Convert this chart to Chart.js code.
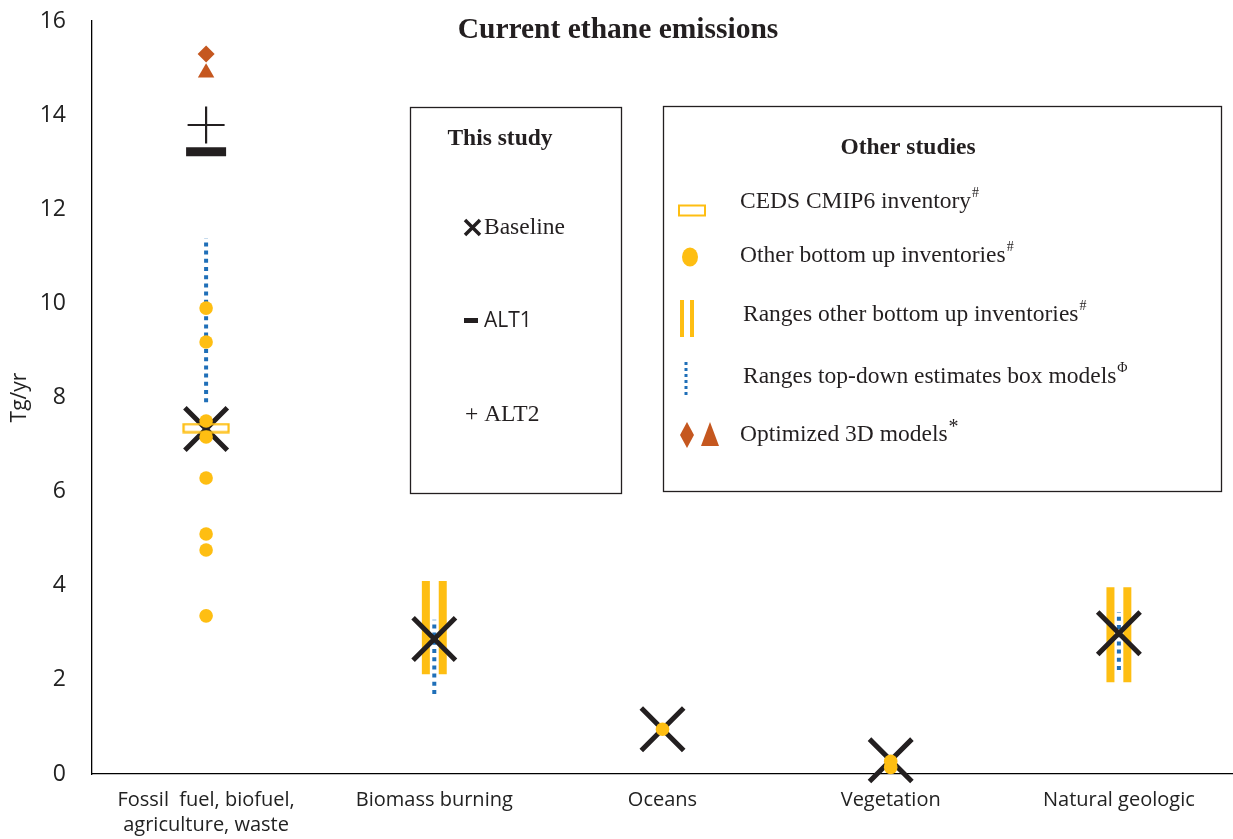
<!DOCTYPE html>
<html>
<head>
<meta charset="utf-8">
<script src="https://cdn.jsdelivr.net/npm/chart.js@4.4.1/dist/chart.umd.min.js"></script>
<style>
  html, body { margin: 0; padding: 0; background: #fff; }
  #wrap { width: 1233px; height: 839px; position: relative; }
</style>
</head>
<body>
<div id="wrap"><canvas id="c" width="1233" height="839"></canvas></div>
<script>
// ---------------- data ----------------
const categories = [["Fossil  fuel, biofuel,", "agriculture, waste"], "Biomass burning", "Oceans", "Vegetation", "Natural geologic"];
const yTicks = [0, 2, 4, 6, 8, 10, 12, 14, 16];

// This study
const baseline = [7.33, 2.87, 0.95, 0.29, 2.99];
const alt1 = [13.22, null, null, null, null];
const alt2 = [13.79, null, null, null, null];

// Other studies
const cedsCmip6 = [7.35, null, null, null, null];
const otherBottomUp = [
  [9.90, 9.18, 7.50, 7.16, 6.29, 5.10, 4.76, 3.36],
  [],
  [0.95],
  [0.27, 0.14],
  []
];
const bottomUpRangeLow = [null, 2.12, null, null, 1.95];
const bottomUpRangeHigh = [null, 4.10, null, null, 3.97];
const topDownLow = [7.90, 1.70, null, null, 2.21];
const topDownHigh = [11.39, 3.28, null, null, 3.44];
const optimized3dDiamond = [15.30, null, null, null, null];
const optimized3dTriangle = [14.90, null, null, null, null];

// ---------------- styles ----------------
const ORANGE = '#FEBE12';
const BLUE = '#1F6FB8';
const BROWN = '#C5571F';
const DARK = '#231F20';
const BAR_OFFSET = 0.037;

function pts(arr) {
  const out = [];
  arr.forEach((v, i) => { if (v !== null && v !== undefined) out.push({ x: i + 0.5, y: v }); });
  return out;
}
function rangePts(lo, hi, dx) {
  const out = [];
  lo.forEach((v, i) => {
    if (v === null) return;
    out.push({ x: i + 0.5 + dx, y: v });
    out.push({ x: i + 0.5 + dx, y: hi[i] });
    out.push({ x: i + 0.5 + dx, y: null });
  });
  return out;
}
function multiPts(lists) {
  const out = [];
  lists.forEach((l, i) => l.forEach(v => out.push({ x: i + 0.5, y: v })));
  return out;
}

// hollow rectangle marker for CEDS
const cedsImg = document.createElement('canvas');
cedsImg.width = 48; cedsImg.height = 11;
(function () {
  const g = cedsImg.getContext('2d');
  g.strokeStyle = ORANGE; g.lineWidth = 2.2;
  g.strokeRect(1.5, 1.5, 45, 8);
})();

const datasets = [
  { label: 'Ranges other bottom up inventories (left)', type: 'line', data: rangePts(bottomUpRangeLow, bottomUpRangeHigh, -BAR_OFFSET),
    borderColor: ORANGE, borderWidth: 8, pointRadius: 0, spanGaps: false, order: 10 },
  { label: 'Ranges other bottom up inventories (right)', type: 'line', data: rangePts(bottomUpRangeLow, bottomUpRangeHigh, BAR_OFFSET),
    borderColor: ORANGE, borderWidth: 8, pointRadius: 0, spanGaps: false, order: 10 },
  { label: 'Ranges top-down estimates box models', type: 'line', data: rangePts(topDownLow, topDownHigh, 0),
    borderColor: BLUE, borderWidth: 4, borderDash: [4, 4.2], pointRadius: 0, spanGaps: false, order: 9 },
  { label: 'Baseline', data: pts(baseline), pointStyle: 'crossRot', pointRadius: 30, pointBorderWidth: 5,
    borderColor: DARK, backgroundColor: DARK, order: 8 },
  { label: 'CEDS CMIP6 inventory', data: pts(cedsCmip6), pointStyle: cedsImg, order: 7 },
  { label: 'Other bottom up inventories', data: multiPts(otherBottomUp), pointStyle: 'circle', pointRadius: 6.8,
    pointBorderWidth: 0, backgroundColor: ORANGE, borderColor: ORANGE, order: 6 },
  { label: 'ALT1', data: pts(alt1), pointStyle: 'line', pointRadius: 20, pointBorderWidth: 9,
    borderColor: DARK, order: 5 },
  { label: 'ALT2', data: pts(alt2), pointStyle: 'cross', pointRadius: 18.5, pointBorderWidth: 2.2,
    borderColor: DARK, order: 5 },
  { label: 'Optimized 3D models (diamond)', data: pts(optimized3dDiamond), pointStyle: 'rectRot', pointRadius: 8.5,
    pointBorderWidth: 0, backgroundColor: BROWN, borderColor: BROWN, order: 4 },
  { label: 'Optimized 3D models (triangle)', data: pts(optimized3dTriangle), pointStyle: 'triangle', pointRadius: 9.5,
    pointBorderWidth: 0, backgroundColor: BROWN, borderColor: BROWN, order: 4 }
];

// ---------------- overlay (title & legend boxes) ----------------
const SERIF = '"Liberation Serif", "Times New Roman", serif';
const SANS = '"Open Sans", "Liberation Sans", sans-serif';
const LEG = 23.5;

function supText(ctx, x, y, text, sup, size) {
  ctx.font = size + 'px ' + SERIF;
  ctx.fillText(text, x, y);
  const w = ctx.measureText(text).width;
  ctx.font = Math.round(size * 0.6) + 'px ' + SERIF;
  ctx.fillText(sup, x + w + 1, y - size * 0.35);
}

const overlayPlugin = {
  id: 'overlay',
  afterDraw(chart) {
    const ctx = chart.ctx;
    ctx.save();
    ctx.fillStyle = DARK;
    ctx.textBaseline = 'middle';
    // title
    ctx.textAlign = 'center';
    ctx.font = 'bold 29.5px ' + SERIF;
    ctx.fillText('Current ethane emissions', 618, 30);

    // box 1
    ctx.strokeStyle = DARK; ctx.lineWidth = 1.3;
    ctx.strokeRect(410.5, 107.5, 211, 386);
    ctx.font = 'bold ' + LEG + 'px ' + SERIF;
    ctx.fillText('This study', 500, 139);
    ctx.textAlign = 'left';
    // baseline icon
    ctx.lineWidth = 3.5; ctx.lineCap = 'butt';
    ctx.beginPath();
    ctx.moveTo(465, 220); ctx.lineTo(480, 235);
    ctx.moveTo(480, 220); ctx.lineTo(465, 235);
    ctx.stroke();
    ctx.font = LEG + 'px ' + SERIF;
    ctx.fillText('Baseline', 484, 228);
    // ALT1 icon
    ctx.fillRect(464, 318, 14, 5);
    ctx.font = '21px ' + SANS;
    ctx.fillText('ALT1', 484, 321);
    // ALT2
    ctx.font = LEG + 'px ' + SERIF;
    ctx.fillText('+ ALT2', 465, 415);

    // box 2
    ctx.lineWidth = 1.3;
    ctx.strokeRect(663.5, 106.5, 558, 385);
    ctx.textAlign = 'center';
    ctx.font = 'bold ' + LEG + 'px ' + SERIF;
    ctx.fillText('Other studies', 908, 148);
    ctx.textAlign = 'left';
    // CEDS icon
    ctx.strokeStyle = ORANGE; ctx.lineWidth = 2;
    ctx.strokeRect(679, 205.5, 26, 10);
    supText(ctx, 740, 202, 'CEDS CMIP6 inventory', '#', LEG);
    // circle icon
    ctx.fillStyle = ORANGE;
    ctx.beginPath(); ctx.ellipse(690, 257, 8, 9.5, 0, 0, Math.PI * 2); ctx.fill();
    ctx.fillStyle = DARK;
    supText(ctx, 740, 256, 'Other bottom up inventories', '#', LEG);
    // ranges bars icon
    ctx.fillStyle = ORANGE;
    ctx.fillRect(680, 300, 4, 37);
    ctx.fillRect(690, 300, 4, 37);
    ctx.fillStyle = DARK;
    supText(ctx, 743, 315, 'Ranges other bottom up inventories', '#', LEG);
    // blue dotted icon
    ctx.strokeStyle = BLUE; ctx.lineWidth = 3; ctx.setLineDash([3, 3]);
    ctx.beginPath(); ctx.moveTo(686, 362); ctx.lineTo(686, 396); ctx.stroke();
    ctx.setLineDash([]);
    supText(ctx, 743, 377, 'Ranges top-down estimates box models', '\u03A6', LEG);
    // diamond + triangle icon
    ctx.fillStyle = BROWN;
    ctx.beginPath();
    ctx.moveTo(687, 422); ctx.lineTo(694, 435); ctx.lineTo(687, 448); ctx.lineTo(680, 435); ctx.closePath(); ctx.fill();
    ctx.beginPath();
    ctx.moveTo(710, 422); ctx.lineTo(719, 446); ctx.lineTo(701, 446); ctx.closePath(); ctx.fill();
    ctx.fillStyle = DARK;
    ctx.font = LEG + 'px ' + SERIF;
    ctx.fillText('Optimized 3D models', 740, 435);
    const w = ctx.measureText('Optimized 3D models').width;
    ctx.font = '20px ' + SERIF;
    ctx.fillText('*', 740 + w + 1, 428);
    ctx.restore();
  }
};

// ---------------- chart ----------------
new Chart(document.getElementById('c'), {
  type: 'scatter',
  data: { datasets },
  plugins: [overlayPlugin],
  options: {
    responsive: false,
    animation: false,
    clip: false,
    layout: { autoPadding: false, padding: { top: 21, right: 0, left: 0, bottom: 0 } },
    plugins: { legend: { display: false }, tooltip: { enabled: false }, title: { display: false } },
    scales: {
      x: {
        type: 'linear', min: 0, max: 5,
        grid: { display: false },
        border: { display: true, color: '#000', width: 1.3 },
        afterBuildTicks(scale) { scale.ticks = categories.map((c, i) => ({ value: i + 0.5 })); },
        ticks: {
          autoSkip: false, maxRotation: 0, padding: 6,
          color: '#222', font: { family: SANS, size: 20, lineHeight: 1.25 },
          callback(v) { const i = Math.round(v - 0.5); return categories[i]; }
        },
        afterFit(scale) { scale.height = 65; scale.paddingLeft = 0; scale.paddingRight = 0; }
      },
      y: {
        min: 0, max: 16,
        grid: { display: false },
        border: { display: true, color: '#000', width: 1.3 },
        afterBuildTicks(scale) { scale.ticks = yTicks.map(v => ({ value: v })); },
        ticks: { padding: 18, color: '#222', font: { family: SANS, size: 23 } },
        title: { display: true, text: 'Tg/yr', color: '#222', font: { family: SANS, size: 21 }, padding: { top: 7, bottom: 0 } },
        afterFit(scale) { scale.width = 92; scale.paddingTop = 0; scale.paddingBottom = 0; }
      }
    }
  }
});
</script>
</body>
</html>
